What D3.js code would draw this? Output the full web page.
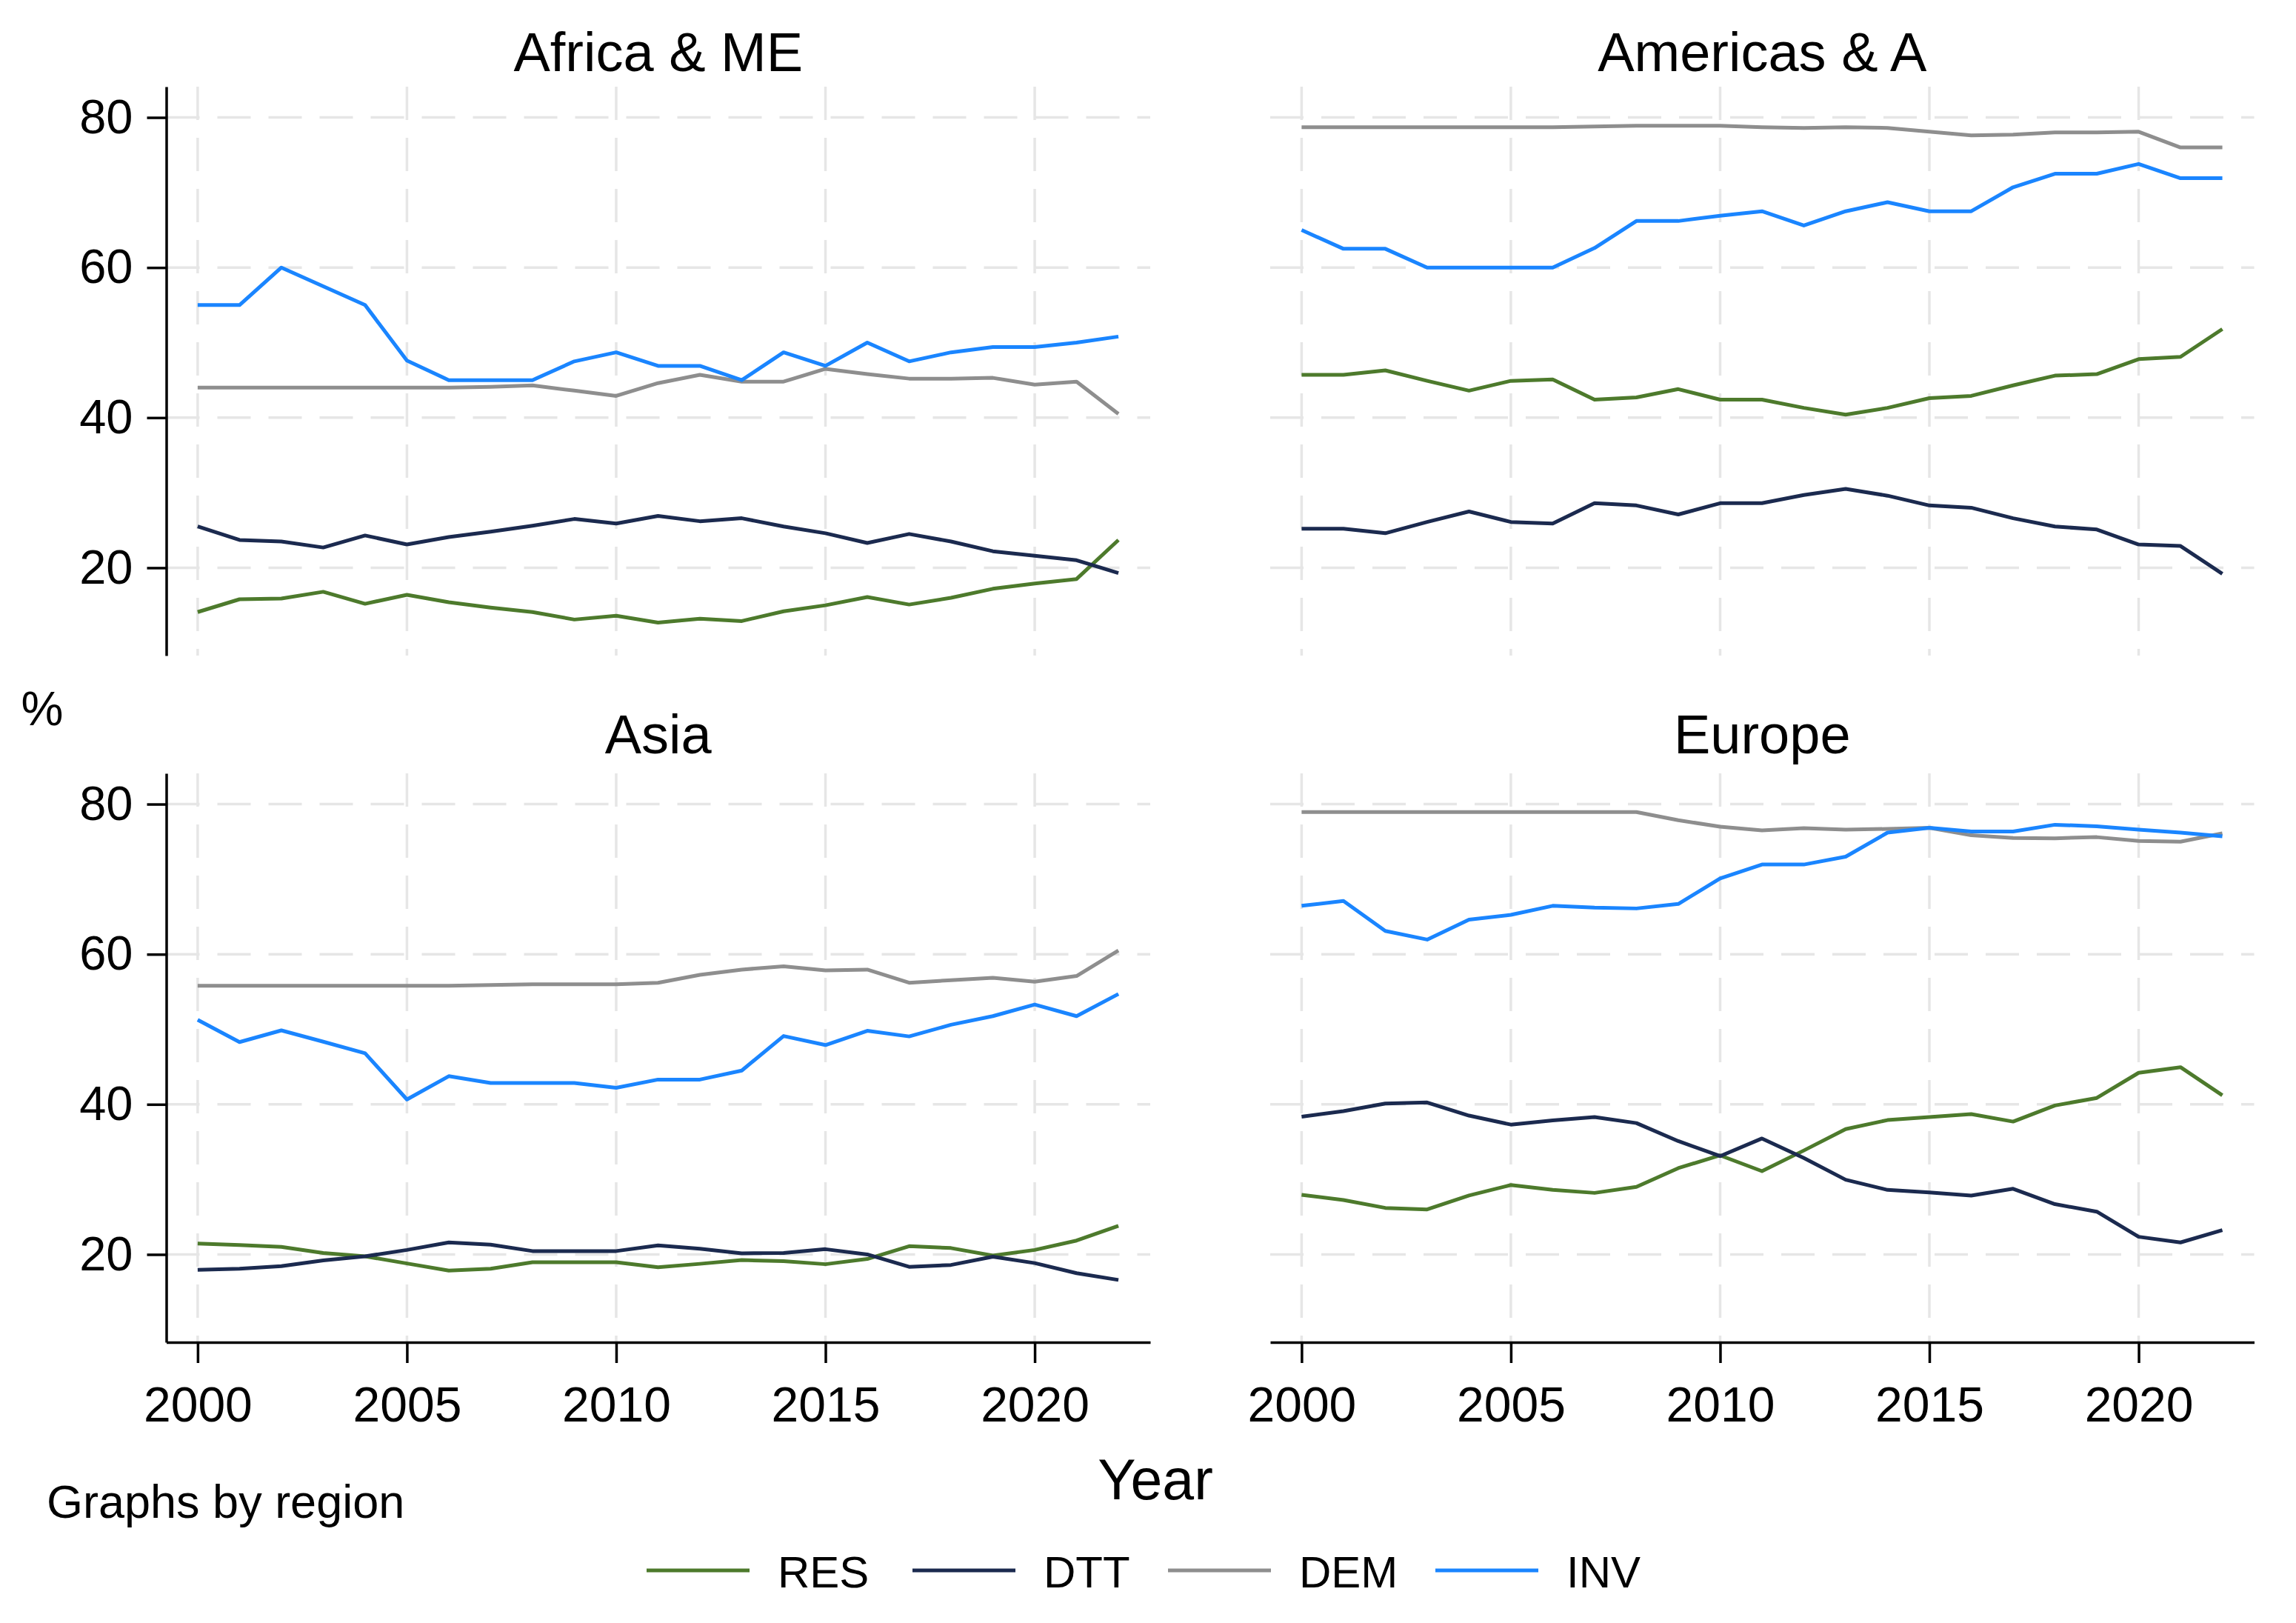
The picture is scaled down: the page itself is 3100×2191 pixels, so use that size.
<html>
<head>
    <style>
        body {
            margin: 0;
            background: white;
            font-family: "Liberation Sans", Arial, sans-serif;
        }
    </style>
    <script src="https://cdn.jsdelivr.net/npm/d3@7"></script>
</head>
<body>
<svg id="chart"></svg>
<script>
// years on the x axis
let years = d3.range(2000, 2023)

let regions = ["Africa & ME", "Americas & A", "Asia", "Europe"]
let seriesNames = ["RES", "DTT", "DEM", "INV"]
let seriesColors = ["#4d7a2c", "#1b2a4f", "#8e8e8e", "#1a85ff"]

let yTicks = [20, 40, 60, 80]
let xTicks = [2000, 2005, 2010, 2015, 2020]

// Africa & ME
let afrRES = [14.1, 15.8, 15.9, 16.8, 15.2, 16.4, 15.4, 14.7, 14.1, 13.1, 13.6, 12.7, 13.2, 12.9, 14.2, 15.0, 16.1, 15.1, 16.0, 17.2, 17.9, 18.5, 23.7]
let afrDTT = [25.5, 23.7, 23.5, 22.7, 24.3, 23.1, 24.1, 24.8, 25.6, 26.5, 25.9, 26.9, 26.2, 26.6, 25.5, 24.6, 23.3, 24.5, 23.5, 22.2, 21.6, 21.0, 19.3]
let afrDEM = [44.0, 44.0, 44.0, 44.0, 44.0, 44.0, 44.0, 44.1, 44.3, 43.6, 42.9, 44.6, 45.7, 44.8, 44.8, 46.5, 45.8, 45.2, 45.2, 45.3, 44.4, 44.8, 40.5]
let afrINV = [55.0, 55.0, 60.0, 57.5, 55.0, 47.6, 45.0, 45.0, 45.0, 47.5, 48.7, 46.9, 46.9, 45.0, 48.7, 46.9, 50.0, 47.5, 48.7, 49.4, 49.4, 50.0, 50.8]

// Americas & A
let amrRES = [45.7, 45.7, 46.3, 44.9, 43.6, 44.9, 45.1, 42.4, 42.7, 43.8, 42.4, 42.4, 41.3, 40.4, 41.3, 42.6, 42.9, 44.3, 45.6, 45.8, 47.8, 48.1, 51.8]
let amrDTT = [25.2, 25.2, 24.6, 26.1, 27.5, 26.1, 25.9, 28.6, 28.3, 27.1, 28.6, 28.6, 29.7, 30.5, 29.6, 28.3, 28.0, 26.6, 25.5, 25.1, 23.1, 22.9, 19.2]
let amrDEM = [78.7, 78.7, 78.7, 78.7, 78.7, 78.7, 78.7, 78.8, 78.9, 78.9, 78.9, 78.7, 78.6, 78.7, 78.6, 78.1, 77.6, 77.7, 78.0, 78.0, 78.1, 76.0, 76.0]
let amrINV = [65.0, 62.5, 62.5, 60.0, 60.0, 60.0, 60.0, 62.6, 66.2, 66.2, 66.9, 67.5, 65.6, 67.5, 68.7, 67.5, 67.5, 70.7, 72.5, 72.5, 73.8, 71.9, 71.9]

// Asia
let asiRES = [21.45, 21.25, 21.0, 20.2, 19.75, 18.8, 17.85, 18.1, 18.95, 18.95, 18.95, 18.3, 18.75, 19.25, 19.1, 18.7, 19.4, 21.1, 20.85, 19.85, 20.6, 21.85, 23.8]
let asiDTT = [17.95, 18.1, 18.45, 19.2, 19.75, 20.6, 21.6, 21.3, 20.45, 20.45, 20.45, 21.2, 20.75, 20.15, 20.2, 20.7, 20.0, 18.35, 18.6, 19.7, 18.85, 17.5, 16.6]
let asiDEM = [55.8, 55.8, 55.8, 55.8, 55.8, 55.8, 55.8, 55.9, 56.0, 56.0, 56.0, 56.2, 57.25, 57.95, 58.4, 57.85, 57.95, 56.2, 56.55, 56.85, 56.35, 57.1, 60.5]
let asiINV = [51.25, 48.3, 49.85, 48.35, 46.8, 40.65, 43.75, 42.85, 42.85, 42.85, 42.2, 43.3, 43.3, 44.5, 49.1, 47.9, 49.8, 49.05, 50.6, 51.75, 53.3, 51.75, 54.7]

// Europe
let eurRES = [27.95, 27.25, 26.2, 26.0, 27.85, 29.25, 28.6, 28.2, 29.0, 31.5, 33.2, 31.1, 33.85, 36.7, 37.9, 38.3, 38.7, 37.7, 39.85, 40.85, 44.2, 44.95, 41.2]
let eurDTT = [38.35, 39.1, 40.1, 40.25, 38.5, 37.3, 37.85, 38.3, 37.5, 35.1, 33.1, 35.45, 32.85, 29.95, 28.6, 28.25, 27.85, 28.75, 26.7, 25.7, 22.35, 21.6, 23.25]
let eurDEM = [78.95, 78.95, 78.95, 78.95, 78.95, 78.95, 78.95, 78.95, 78.95, 77.85, 77.0, 76.5, 76.8, 76.6, 76.7, 76.85, 75.85, 75.5, 75.45, 75.6, 75.1, 75.0, 76.1]
let eurINV = [66.45, 67.1, 63.1, 61.95, 64.6, 65.25, 66.45, 66.2, 66.1, 66.7, 70.1, 71.95, 71.95, 73.0, 76.2, 76.85, 76.35, 76.35, 77.25, 77.05, 76.6, 76.2, 75.7]

let regionSeries = [
    [afrRES, afrDTT, afrDEM, afrINV],
    [amrRES, amrDTT, amrDEM, amrINV],
    [asiRES, asiDTT, asiDEM, asiINV],
    [eurRES, eurDTT, eurDEM, eurINV]
]

let width = 3100
let height = 2191
let svg = d3.select("#chart").attr("width", width).attr("height", height)

// panel frames
let colLeft = [224.5, 1715]
let panelW = 1328.5
let rowTop = [117, 1044]
let panelH = 768
let titleBase = [96, 1017]

function drawPanel(i) {
    let col = i % 2
    let row = Math.floor(i / 2)
    let left = colLeft[col], top = rowTop[row]
    let x = d3.scaleLinear().domain([1999.25, 2022.76]).range([left, left + panelW])
    let y = d3.scaleLinear().domain([8.3, 84.1]).range([top + panelH, top])
    let g = svg.append("g")

    // dashed grid
    g.selectAll(".hgrid").data(yTicks).enter().append("line")
        .attr("x1", left).attr("x2", left + panelW)
        .attr("y1", d => y(d)).attr("y2", d => y(d))
        .attr("stroke", "#e6e6e6").attr("stroke-width", 3.5)
        .attr("stroke-dasharray", "45,24")
    g.selectAll(".vgrid").data(xTicks).enter().append("line")
        .attr("x1", d => x(d)).attr("x2", d => x(d))
        .attr("y1", top).attr("y2", top + panelH)
        .attr("stroke", "#e6e6e6").attr("stroke-width", 3.5)
        .attr("stroke-dasharray", "45,24")

    // lines
    let line = d3.line().x((d, k) => x(years[k])).y(d => y(d))
    regionSeries[i].forEach((vals, s) => {
        g.append("path").datum(vals)
            .attr("d", line)
            .attr("fill", "none")
            .attr("stroke", seriesColors[s])
            .attr("stroke-width", 5)
            .attr("stroke-linejoin", "round")
    })

    // y axis only on left column
    if (col == 0) {
        let ax = g.append("g").attr("transform", `translate(${left},0)`)
            .call(d3.axisLeft(y).tickValues(yTicks).tickSize(26).tickSizeOuter(0).tickPadding(19))
        ax.selectAll("path, line").attr("stroke", "black").attr("stroke-width", 3.5)
        ax.selectAll("text").attr("font-size", 65).attr("font-family", "Liberation Sans, Arial").attr("fill", "black")
    }
    // x axis only on bottom row
    if (row == 1) {
        let ax = g.append("g").attr("transform", `translate(0,${top + panelH})`)
            .call(d3.axisBottom(x).tickValues(xTicks).tickFormat(d3.format("d")).tickSize(28).tickSizeOuter(0).tickPadding(32))
        ax.selectAll("path, line").attr("stroke", "black").attr("stroke-width", 3.5)
        ax.selectAll("text").attr("font-size", 66).attr("font-family", "Liberation Sans, Arial").attr("fill", "black")
    }

    svg.append("text")
        .attr("x", left + panelW / 2).attr("y", titleBase[row])
        .attr("text-anchor", "middle")
        .attr("font-size", 74)
        .text(regions[i])
}

regions.forEach((r, i) => drawPanel(i))

svg.append("text").attr("x", 57).attr("y", 979).attr("text-anchor", "middle")
    .attr("font-size", 64).text("%")
svg.append("text").attr("x", 1560).attr("y", 2024).attr("text-anchor", "middle")
    .attr("font-size", 77).text("Year")
svg.append("text").attr("x", 63).attr("y", 2049)
    .attr("font-size", 63).text("Graphs by region")

// legend
let legendX = [873, 1232, 1577, 1938]
let legend = svg.append("g")
seriesNames.forEach((name, s) => {
    legend.append("line")
        .attr("x1", legendX[s]).attr("x2", legendX[s] + 139)
        .attr("y1", 2120).attr("y2", 2120)
        .attr("stroke", seriesColors[s]).attr("stroke-width", 5)
    legend.append("text")
        .attr("x", legendX[s] + 177).attr("y", 2143)
        .attr("font-size", 60).text(name)
})
</script>
</body>
</html>
